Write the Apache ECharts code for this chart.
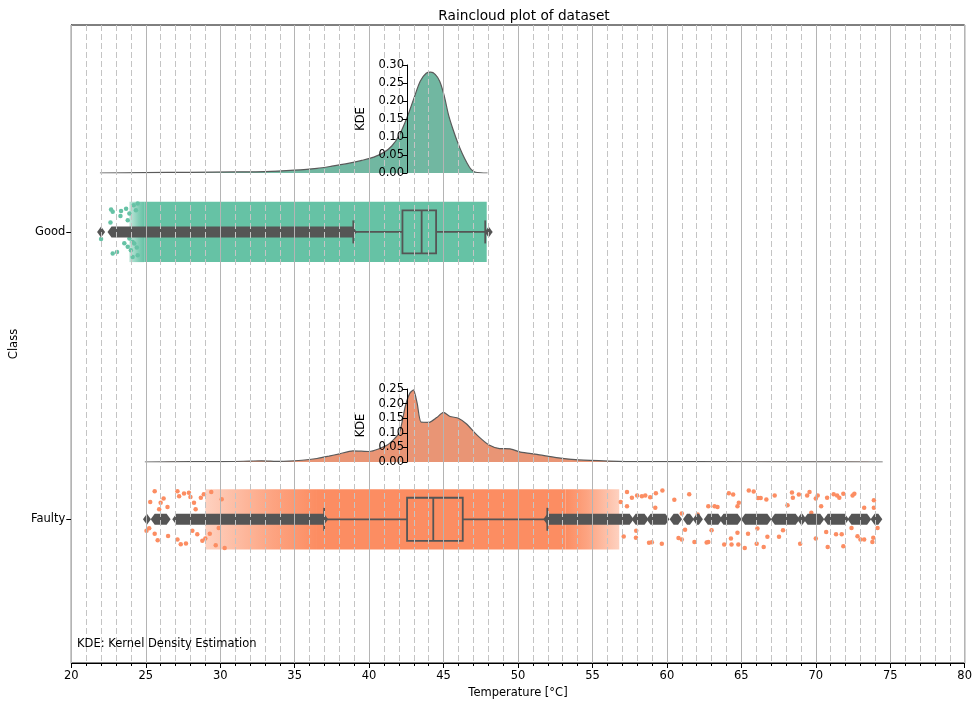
<!DOCTYPE html>
<html>
<head>
<meta charset="utf-8">
<script src="https://cdn.jsdelivr.net/npm/echarts@6/dist/echarts.min.js"></script>
<style>
  html, body { margin: 0; padding: 0; background: #fff; }
  #chart { width: 975px; height: 704px; }
</style>
</head>
<body>
<div id="chart"></div>
<script>
// categories on the y axis (Good = 0, Faulty = 1)
const categories = ['Good', 'Faulty'];

// half-violin (KDE) curves
const kdeGoodX = [22, 25, 28, 31, 33, 35, 36.5, 37.5, 38.5, 39.5, 40.3, 41.0, 41.5, 42.0, 42.5, 43.0, 43.4, 43.8, 44.1, 44.4, 44.7, 45.0, 45.3, 45.6, 45.9, 46.2, 46.5, 46.8, 47.1, 47.9];
const kdeGoodY = [0, 0.001, 0.002, 0.003, 0.004, 0.008, 0.013, 0.019, 0.026, 0.035, 0.044, 0.058, 0.075, 0.105, 0.152, 0.21, 0.255, 0.277, 0.28, 0.274, 0.255, 0.215, 0.16, 0.12, 0.085, 0.055, 0.03, 0.01, 0.002, 0];
const kdeFaultyX = [25, 28, 30, 32, 32.8, 34, 35.5, 36.5, 37.3, 38.0, 38.9, 40.0, 41.2, 42.0, 42.4, 42.7, 42.95, 43.2, 43.45, 44.0, 44.5, 44.95, 45.4, 45.95, 46.5, 47.2, 48.0, 48.7, 49.4, 50.1, 51.2, 52.5, 54.0, 56.0, 58, 62, 68, 74.3];
const kdeFaultyY = [0, 0.001, 0.001, 0.003, 0.004, 0.002, 0.006, 0.012, 0.02, 0.028, 0.038, 0.036, 0.058, 0.1, 0.19, 0.235, 0.247, 0.2, 0.137, 0.136, 0.152, 0.17, 0.156, 0.15, 0.13, 0.092, 0.058, 0.046, 0.045, 0.034, 0.026, 0.015, 0.007, 0.003, 0.001, 0.001, 0.0005, 0];
const kdeGoodTicks = [0, 0.30];
const kdeFaultyTicks = [0, 0.25];

// box plot stats: [lower whisker, Q1, median, Q3, upper whisker]
const goodBox = [38.94, 42.24, 43.53, 44.5, 47.8];
const faultyBox = [36.98, 42.55, 44.31, 46.29, 51.97];

// outliers: runs of overlapping diamonds [first, last]
const goodOutliers = [[22.0, 22.0], [22.7, 38.9], [48.03, 48.03]];
const faultyOutliers = [[25.08, 25.08], [25.6, 26.4], [27.05, 36.98],
  [51.97, 57.5], [57.9, 58.5], [58.9, 59.9], [60.45, 60.75], [61.35, 61.55], [62.0, 62.15],
  [62.75, 63.45], [63.8, 64.75], [65.25, 66.75], [67.25, 68.65], [69.0, 69.1], [69.45, 70.3],
  [70.8, 71.95], [72.4, 73.45], [73.95, 74.2]];

// strip plot: densely covered ranges and sparse single points [x, jitter]
const goodBand = [24.9, 47.9];
const goodFadeIn = [23.9, 24.9];
const faultyBand = [36.5, 53.2];
const faultyFadeIn = [29.0, 36.5];
const faultyFadeOut = [53.2, 56.8];
const goodSparse = [[22.67, -0.078], [22.78, -0.07], [22.63, -0.033], [22.0, 0.025], [22.78, 0.075], [23.07, 0.07],
  [23.34, -0.073], [23.3, -0.055], [23.68, -0.081], [23.9, -0.064], [23.79, -0.041], [23.56, 0.039], [23.79, 0.052],
  [24.0, 0.064], [24.19, -0.093], [24.34, -0.075], [24.46, -0.099], [24.12, 0.035], [24.23, 0.04], [24.4, 0.054],
  [24.12, 0.087], [24.46, 0.081], [23.9, 0.023]];
const faultySparse = [[25.6, -0.098], [26.2, -0.072], [25.9, -0.035], [25.23, 0.031], [25.6, 0.05], [25.8, 0.073],
  [26.46, -0.043], [26.5, 0.058], [27.13, -0.098], [27.24, -0.08], [27.57, -0.09], [27.9, -0.092], [28.0, -0.078],
  [27.13, 0.07], [27.35, 0.087], [27.7, 0.084], [28.24, -0.058], [28.35, -0.035], [28.13, 0.04], [28.46, 0.052],
  [28.7, -0.075], [28.9, -0.087], [28.8, 0.075], [29.0, 0.067], [26.0, -0.058], [25.05, 0.04], [25.3, -0.06],
  [29.4, -0.095], [29.7, 0.09], [30.1, -0.07], [30.3, 0.1], [29.9, 0.03], [29.3, 0.05],
  [57.32, -0.095], [57.65, -0.075], [58.0, -0.083], [58.32, -0.08], [58.55, -0.083], [58.88, -0.077], [59.26, -0.091],
  [59.7, -0.1], [59.22, -0.04], [57.94, 0.04], [57.92, 0.064], [58.8, 0.082], [58.99, 0.08], [59.66, 0.085],
  [60.5, -0.068], [61.5, -0.087], [61.22, 0.036], [60.78, 0.065], [61.0, 0.07], [61.85, 0.079], [61.0, -0.02],
  [62.07, -0.017], [62.67, 0.081], [57.32, -0.045], [58.0, 0.0], [57.1, 0.06], [56.9, -0.06],
  [62.78, 0.079], [62.78, -0.045], [63.2, -0.045], [63.4, -0.043], [63.0, 0.038], [64.16, -0.091], [64.45, -0.086],
  [63.85, 0.088], [64.34, 0.088], [64.3, 0.067], [64.83, -0.058], [64.74, -0.045], [64.74, 0.047], [64.8, 0.088],
  [65.23, 0.1], [65.45, 0.05], [65.5, -0.1], [65.83, -0.097], [66.12, -0.074], [66.3, -0.074], [66.08, 0.032],
  [66.03, 0.085], [66.68, -0.069], [66.5, 0.096], [66.75, 0.061], [67.24, -0.083], [67.53, 0.061], [67.8, 0.038],
  [68.1, -0.049], [68.4, -0.093], [68.46, -0.075], [68.86, -0.086], [68.95, 0.085], [69.42, -0.083], [69.58, -0.095],
  [69.7, -0.023], [70.0, -0.072], [70.13, -0.083], [70.36, -0.045], [70.0, 0.067], [70.76, -0.075], [70.7, 0.044],
  [70.8, 0.096], [71.2, -0.087], [71.43, -0.083], [71.58, -0.075], [71.85, -0.089], [71.36, 0.052], [71.74, 0.052],
  [71.85, 0.094], [72.47, -0.083], [72.59, -0.089], [72.4, 0.03], [72.8, 0.059], [73.0, 0.07], [73.25, 0.07],
  [73.25, -0.04], [73.8, 0.079], [73.86, 0.064], [73.9, -0.066], [74.15, 0.03], [73.9, -0.04]];

const xTicksMajor = 5;
const JITTER = 0.105;
const GREEN = '#66c2a5', ORANGE = '#fc8d62';
const DARK = '#555555';
const FONT = 'DejaVu Sans';

const chart = echarts.init(document.getElementById('chart'));

function zip(xs, ys) { return xs.map((x, i) => [x, ys[i]]); }

const bandData = [
  [0, goodBand[0], goodBand[1], 0],
  [0, goodFadeIn[0], goodFadeIn[1], 1],
  [1, faultyBand[0], faultyBand[1], 0],
  [1, faultyFadeIn[0], faultyFadeIn[1], 1],
  [1, faultyFadeOut[0], faultyFadeOut[1], 2]
];

function renderBand(params, api) {
  const c = api.value(0), x0 = api.value(1), x1 = api.value(2), kind = api.value(3);
  const a = api.coord([x0, c - JITTER]);
  const b = api.coord([x1, c + JITTER]);
  const color = c === 0 ? GREEN : ORANGE;
  let fill = color;
  if (kind === 1 || kind === 2) {
    const faint = echarts.color.modifyAlpha(color, 0.4);
    const stops = kind === 1
      ? [{ offset: 0, color: faint }, { offset: 0.6, color: echarts.color.modifyAlpha(color, 0.8) }, { offset: 1, color: color }]
      : [{ offset: 0, color: color }, { offset: 0.4, color: echarts.color.modifyAlpha(color, 0.8) }, { offset: 1, color: faint }];
    fill = new echarts.graphic.LinearGradient(0, 0, 1, 0, stops);
  }
  return {
    type: 'rect',
    shape: { x: a[0], y: Math.min(a[1], b[1]), width: b[0] - a[0], height: Math.abs(b[1] - a[1]) },
    style: { fill: fill }
  };
}

function renderBox(params, api) {
  const c = api.value(0);
  const lo = api.value(1), q1 = api.value(2), med = api.value(3), q3 = api.value(4), hi = api.value(5);
  const half = 0.075, cap = 0.04;
  const y = api.coord([lo, c])[1];
  const yt = api.coord([lo, c - half])[1], yb = api.coord([lo, c + half])[1];
  const ct = api.coord([lo, c - cap])[1], cb = api.coord([lo, c + cap])[1];
  const X = v => api.coord([v, c])[0];
  const st = { stroke: DARK, lineWidth: 1.8, fill: null };
  return {
    type: 'group',
    children: [
      { type: 'line', shape: { x1: X(lo), y1: y, x2: X(q1), y2: y }, style: st },
      { type: 'line', shape: { x1: X(q3), y1: y, x2: X(hi), y2: y }, style: st },
      { type: 'line', shape: { x1: X(lo), y1: ct, x2: X(lo), y2: cb }, style: st },
      { type: 'line', shape: { x1: X(hi), y1: ct, x2: X(hi), y2: cb }, style: st },
      { type: 'rect', shape: { x: X(q1), y: yt, width: X(q3) - X(q1), height: yb - yt }, style: st },
      { type: 'line', shape: { x1: X(med), y1: yt, x2: X(med), y2: yb }, style: st }
    ]
  };
}

function renderOutlier(params, api) {
  const c = api.value(0);
  const p0 = api.coord([api.value(1), c]);
  const p1 = api.coord([api.value(2), c]);
  const hw = 4, hh = 5.5;
  return {
    type: 'polygon',
    shape: { points: [[p0[0] - hw, p0[1]], [p0[0], p0[1] - hh], [p1[0], p1[1] - hh], [p1[0] + hw, p1[1]], [p1[0], p1[1] + hh], [p0[0], p0[1] + hh]] },
    style: { fill: DARK }
  };
}

const textStyle = { fontFamily: FONT, fontSize: 11.5, color: '#000' };

function kdeYAxis(gridIndex, ticks) {
  return {
    type: 'value', gridIndex: gridIndex, min: ticks[0], max: ticks[1], interval: 0.05,
    position: 'left', offset: -337, z: 12,
    name: 'KDE', nameLocation: 'middle', nameRotate: 90, nameGap: 38,
    nameTextStyle: textStyle,
    axisLine: { show: true, onZero: false, lineStyle: { color: '#000', width: 1 } },
    axisTick: { show: true, length: 4, lineStyle: { color: '#000' } },
    axisLabel: Object.assign({ margin: 3, formatter: v => v.toFixed(2) }, textStyle),
    splitLine: { show: false }
  };
}

const option = {
  animation: false,
  backgroundColor: '#fff',
  textStyle: { fontFamily: FONT },
  title: {
    text: 'Raincloud plot of dataset', left: 519, top: 4, textAlign: 'center',
    textStyle: { fontFamily: FONT, fontSize: 13.7, fontWeight: 'normal', color: '#000' }
  },
  grid: [
    { left: 70, right: 7, top: 25, bottom: 41, show: true, borderColor: '#000', borderWidth: 1, backgroundColor: 'transparent' },
    { left: 70, right: 7, top: 65, height: 108 },
    { left: 70, right: 7, top: 389, height: 73 }
  ],
  xAxis: [
    {
      type: 'value', gridIndex: 0, min: 20, max: 80, interval: xTicksMajor, z: 10,
      name: 'Temperature [°C]', nameLocation: 'middle', nameGap: 23,
      nameTextStyle: textStyle,
      axisLine: { show: true, onZero: false, lineStyle: { color: '#000', width: 1 } },
      axisTick: { show: true, length: 5, lineStyle: { color: '#000' } },
      minorTick: { show: true, splitNumber: 5, length: 3, lineStyle: { color: '#000' } },
      axisLabel: Object.assign({ margin: 7 }, textStyle),
      splitLine: { show: true, lineStyle: { color: '#b4b4b4', width: 1 } },
      minorSplitLine: { show: true, lineStyle: { color: '#c4c4c4', width: 1, type: [6, 3] } }
    },
    { type: 'value', gridIndex: 1, min: 20, max: 80, show: false },
    { type: 'value', gridIndex: 2, min: 20, max: 80, show: false }
  ],
  yAxis: [
    {
      type: 'value', gridIndex: 0, min: -0.72, max: 1.5, inverse: true,
      name: 'Class', nameLocation: 'middle', nameRotate: 90, nameGap: 49,
      nameTextStyle: textStyle,
      axisLine: { show: true, onZero: false, lineStyle: { color: '#000', width: 1 } },
      axisTick: { show: true, length: 5, customValues: [0, 1], lineStyle: { color: '#000' } },
      axisLabel: Object.assign({ margin: 6, customValues: [0, 1], formatter: v => categories[Math.round(v)] }, textStyle),
      splitLine: { show: false }
    },
    kdeYAxis(1, kdeGoodTicks),
    kdeYAxis(2, kdeFaultyTicks)
  ],
  graphic: [{
    type: 'text', left: 77, top: 638, z: 20,
    style: { text: 'KDE: Kernel Density Estimation', fontFamily: FONT, fontSize: 11.5, fill: '#000' }
  }],
  series: [
    {
      type: 'line', xAxisIndex: 1, yAxisIndex: 1, data: zip(kdeGoodX, kdeGoodY),
      showSymbol: false, smooth: 0.3, lineStyle: { color: '#5a5a5a', width: 1.2 },
      areaStyle: { color: '#71b7a1', opacity: 1 }, z: 2
    },
    {
      type: 'line', xAxisIndex: 2, yAxisIndex: 2, data: zip(kdeFaultyX, kdeFaultyY),
      showSymbol: false, smooth: 0.2, lineStyle: { color: '#5a5a5a', width: 1.2 },
      areaStyle: { color: '#e99575', opacity: 1 }, z: 2
    },
    {
      type: 'custom', xAxisIndex: 0, yAxisIndex: 0, renderItem: renderBand, data: bandData, z: 3
    },
    {
      type: 'scatter', xAxisIndex: 0, yAxisIndex: 0, symbolSize: 4.5,
      data: goodSparse.map(p => [p[0], 0 + p[1]]), itemStyle: { color: GREEN, opacity: 1 }, z: 3
    },
    {
      type: 'scatter', xAxisIndex: 0, yAxisIndex: 0, symbolSize: 4.5,
      data: faultySparse.map(p => [p[0], 1 + p[1]]), itemStyle: { color: ORANGE, opacity: 1 }, z: 3
    },
    {
      type: 'custom', xAxisIndex: 0, yAxisIndex: 0, renderItem: renderOutlier, z: 4,
      data: goodOutliers.map(r => [0, r[0], r[1]]).concat(faultyOutliers.map(r => [1, r[0], r[1]]))
    },
    {
      type: 'custom', xAxisIndex: 0, yAxisIndex: 0, renderItem: renderBox, z: 5,
      data: [[0].concat(goodBox), [1].concat(faultyBox)]
    }
  ]
};

chart.setOption(option);
</script>
</body>
</html>
